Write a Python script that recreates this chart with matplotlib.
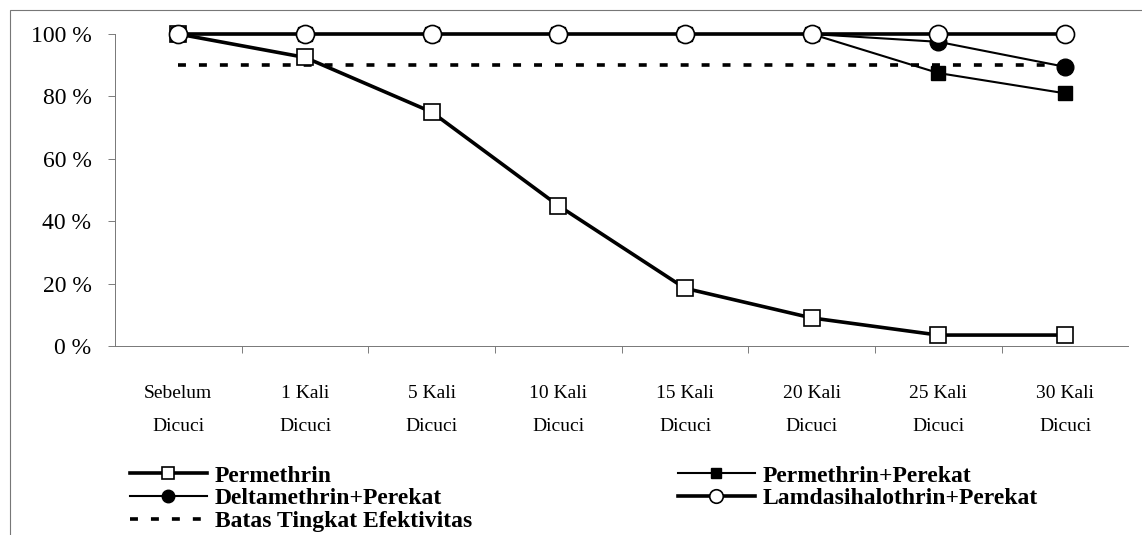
import matplotlib.pyplot as plt
from matplotlib.patches import Rectangle
from matplotlib.ticker import FixedLocator

# data
categories = ["Sebelum\nDicuci", "1 Kali\nDicuci", "5 Kali\nDicuci", "10 Kali\nDicuci",
              "15 Kali\nDicuci", "20 Kali\nDicuci", "25 Kali\nDicuci", "30 Kali\nDicuci"]
permethrin = [100, 92.5, 75, 45, 18.5, 9, 3.5, 3.5]
permethrin_perekat = [100, 100, 100, 100, 100, 100, 87.5, 81]
deltamethrin_perekat = [100, 100, 100, 100, 100, 100, 97.5, 89.5]
lamdasihalothrin_perekat = [100, 100, 100, 100, 100, 100, 100, 100]
batas = [90, 90, 90, 90, 90, 90, 90, 90]
yticks = [0, 20, 40, 60, 80, 100]

plt.rcParams['font.family'] = ['Liberation Serif', 'DejaVu Serif']

fig = plt.figure(figsize=(11.42, 5.35), dpi=100)
ax = fig.add_axes([0.1007, 0.3533, 0.8873, 0.5831])

x = list(range(len(categories)))

ax.plot(x, permethrin, color='black', lw=2.6, marker='s', ms=12,
        mfc='white', mec='black', mew=1.2, label='Permethrin', clip_on=False, zorder=3)
ax.plot(x, permethrin_perekat, color='black', lw=1.5, marker='s', ms=10,
        mfc='black', mec='black', label='Permethrin+Perekat', clip_on=False, zorder=3)
ax.plot(x, deltamethrin_perekat, color='black', lw=1.5, marker='o', ms=12,
        mfc='black', mec='black', label='Deltamethrin+Perekat', clip_on=False, zorder=3)
ax.plot(x, lamdasihalothrin_perekat, color='black', lw=2.6, marker='o', ms=13,
        mfc='white', mec='black', mew=1.2, label='Lamdasihalothrin+Perekat', clip_on=False, zorder=4)
ax.plot(x, batas, color='black', lw=2.6, ls=(0, (2.2, 3.6)),
        label='Batas Tingkat Efektivitas', clip_on=False, zorder=2)

ax.set_xlim(-0.5, len(categories) - 0.5)
ax.set_ylim(0, 100)

ax.set_xticks(x)
ax.set_xticklabels(categories, fontsize=14, linespacing=2.25)
ax.xaxis.set_minor_locator(FixedLocator([i + 0.5 for i in range(len(categories) - 1)]))
ax.tick_params(axis='x', which='major', length=0, pad=28)
ax.tick_params(axis='x', which='minor', length=5, width=0.6, color='#666666')

ax.set_yticks(yticks)
ax.set_yticklabels([f"{v} %" for v in yticks], fontsize=17)
ax.tick_params(axis='y', length=5, width=0.6, color='#666666', pad=12)

for side in ['top', 'right']:
    ax.spines[side].set_visible(False)
for side in ['left', 'bottom']:
    ax.spines[side].set_color('#777777')
    ax.spines[side].set_linewidth(0.7)

# order so the two-column legend reads like the reference
handles, labels = ax.get_legend_handles_labels()
order = [0, 2, 4, 1, 3]
fig.legend([handles[i] for i in order], [labels[i] for i in order],
           loc='upper left', bbox_to_anchor=(0.1138, 0.1305), ncol=2, frameon=False,
           prop={'weight': 'bold', 'size': 17}, handlelength=3.26, handletextpad=0.34,
           labelspacing=0.05, columnspacing=8.7, borderaxespad=0, borderpad=0,
           markerscale=0.75)

# thin frame round the chart, as in the scan
fig.add_artist(Rectangle((0.009, -0.01), 1.2, 0.992, transform=fig.transFigure,
                         fill=False, lw=0.8, edgecolor='#777777'))

fig.savefig('out.png', dpi=100)
